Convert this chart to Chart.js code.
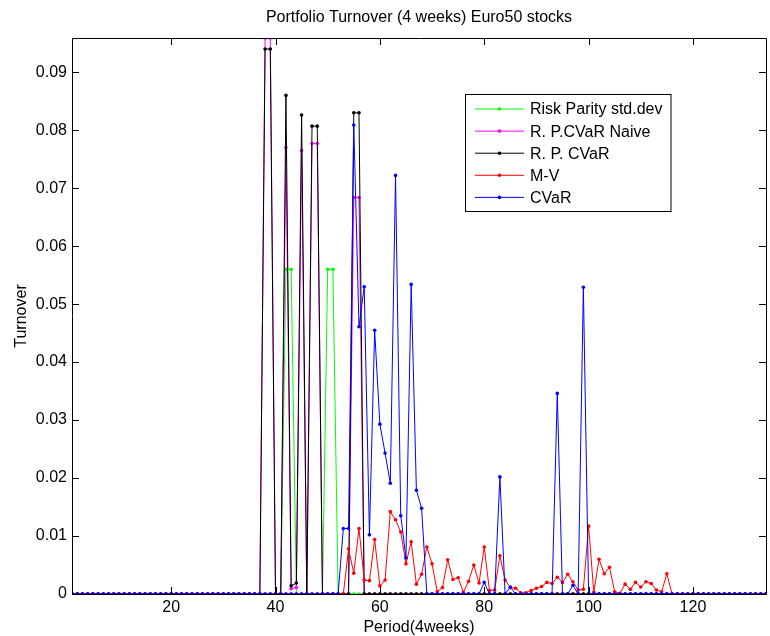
<!DOCTYPE html>
<html>
<head>
<meta charset="utf-8">
<script src="https://cdn.jsdelivr.net/npm/chart.js@4.4.0/dist/chart.umd.min.js"></script>
<style>
    html, body { margin: 0; padding: 0; background: #fff; }
    #wrap { width: 770px; height: 636px; }
</style>
</head>
<body>
<div id="wrap"><canvas id="turnoverChart" width="770" height="636"></canvas></div>
<script>
// Turnover per period (1..134)
const riskParityStd = [
    0, 0, 0, 0, 0, 0, 0, 0, 0, 0, 0, 0, 0, 0, 0, 0, 0, 0, 0, 0,
    0, 0, 0, 0, 0, 0, 0, 0, 0, 0, 0, 0, 0, 0, 0, 0, 0, 0, 0, 0,
    0, .056, .056, 0, 0, 0, 0, 0, 0, .056, .056, 0, 0, 0, 0, 0, 0, 0, 0, 0,
    0, 0, 0, 0, 0, 0, 0, 0, 0, 0, 0, 0, 0, 0, 0, 0, 0, 0, 0, 0,
    0, 0, 0, 0, 0, 0, 0, 0, 0, 0, 0, 0, 0, 0, 0, 0, 0, 0, 0, 0,
    0, 0, 0, 0, 0, 0, 0, 0, 0, 0, 0, 0, 0, 0, 0, 0, 0, 0, 0, 0,
    0, 0, 0, 0, 0, 0, 0, 0, 0, 0, 0, 0, 0, 0
];
const rpCvarNaive = [
    0, 0, 0, 0, 0, 0, 0, 0, 0, 0, 0, 0, 0, 0, 0, 0, 0, 0, 0, 0,
    0, 0, 0, 0, 0, 0, 0, 0, 0, 0, 0, 0, 0, 0, 0, 0, 0, .0959, .0959, 0,
    0, .077, .0009, .0011, .0765, 0, .0777, .0777, 0, 0, 0, 0, 0, 0, .0684, .0684, 0, 0, 0, 0,
    0, 0, 0, 0, 0, 0, 0, 0, 0, 0, 0, 0, 0, 0, 0, 0, 0, 0, 0, 0,
    0, 0, 0, 0, 0, 0, 0, 0, 0, 0, 0, 0, 0, 0, 0, 0, 0, 0, 0, 0,
    0, 0, 0, 0, 0, 0, 0, 0, 0, 0, 0, 0, 0, 0, 0, 0, 0, 0, 0, 0,
    0, 0, 0, 0, 0, 0, 0, 0, 0, 0, 0, 0, 0, 0
];
const rpCvar = [
    0, 0, 0, 0, 0, 0, 0, 0, 0, 0, 0, 0, 0, 0, 0, 0, 0, 0, 0, 0,
    0, 0, 0, 0, 0, 0, 0, 0, 0, 0, 0, 0, 0, 0, 0, 0, 0, .094, .094, 0,
    0, .086, .0014, .0019, .0826, 0, .0807, .0807, 0, 0, 0, 0, 0, 0, .083, .083, 0, 0, 0, 0,
    0, 0, 0, 0, 0, 0, 0, 0, 0, 0, 0, 0, 0, 0, 0, 0, 0, 0, 0, 0,
    0, 0, 0, 0, 0, 0, 0, 0, 0, 0, 0, 0, 0, 0, 0, 0, 0, 0, 0, 0,
    0, 0, 0, 0, 0, 0, 0, 0, 0, 0, 0, 0, 0, 0, 0, 0, 0, 0, 0, 0,
    0, 0, 0, 0, 0, 0, 0, 0, 0, 0, 0, 0, 0, 0
];
const meanVar = [
    0, 0, 0, 0, 0, 0, 0, 0, 0, 0, 0, 0, 0, 0, 0, 0, 0, 0, 0, 0,
    0, 0, 0, 0, 0, 0, 0, 0, 0, 0, 0, 0, 0, 0, 0, 0, 0, 0, 0, 0,
    0, 0, 0, 0, 0, 0, 0, 0, 0, 0, 0, 0, 0, .0078, .0036, .0113, .0024, .0023, .0094, .0014,
    .0024, .0142, .0128, .0107, .0052, .009, .0017, .0034, .0081, .0052, .0004, .0011, .0059, .0025, .0028, .0003, .0022, .005, .0019, .0081,
    .0006, .0007, .0066, .0024, .0011, .001, .0002, .0002, .0006, .001, .0013, .002, .0018, .0029, .002, .0034, .0021, .0007, .0008, .0117,
    .0003, .006, .0035, .0046, .0004, .0001, .0017, .0008, .002, .0012, .0021, .0018, .0007, .0004, .0035, 0, 0, 0, 0, 0,
    0, 0, 0, 0, 0, 0, 0, 0, 0, 0, 0, 0, 0, 0
];
const cvar = [
    0, 0, 0, 0, 0, 0, 0, 0, 0, 0, 0, 0, 0, 0, 0, 0, 0, 0, 0, 0,
    0, 0, 0, 0, 0, 0, 0, 0, 0, 0, 0, 0, 0, 0, 0, 0, 0, 0, 0, 0,
    0, 0, 0, 0, 0, 0, 0, 0, 0, 0, 0, 0, .0113, .0113, .0809, .0461, .053, .0102, .0455, .0293,
    .0243, .0191, .0722, .0135, .0062, .0534, .0179, .0148, 0, 0, 0, 0, 0, 0, 0, 0, 0, 0, 0, .002,
    0, 0, .0202, 0, .0012, 0, 0, 0, 0, 0, 0, 0, 0, .0346, 0, 0, .0015, 0, .0529, 0,
    0, 0, 0, 0, 0, 0, 0, 0, 0, 0, 0, 0, 0, 0, 0, 0, 0, 0, 0, 0,
    0, 0, 0, 0, 0, 0, 0, 0, 0, 0, 0, 0, 0, 0
];

const seriesNames = ["Risk Parity std.dev", "R. P.CVaR Naive", "R. P. CVaR", "M-V", "CVaR"];
const seriesColors = ["#00ff00", "#ff00ff", "#000000", "#ff0000", "#0000ff"];
const xTicks = [20, 40, 60, 80, 100, 120];
const yTicks = [0, 0.01, 0.02, 0.03, 0.04, 0.05, 0.06, 0.07, 0.08, 0.09];
const yTickLabels = ["0", "0.01", "0.02", "0.03", "0.04", "0.05", "0.06", "0.07", "0.08", "0.09"];
const periods = cvar.map((_, i) => i + 1);

const FONT = "'Liberation Sans', Arial, Helvetica, sans-serif";

function toPoints(values) {
    return values.map((v, i) => ({ x: periods[i], y: v }));
}

// Matlab style frame: box, inward ticks, title and legend
const matlabFrame = {
    id: "matlabFrame",
    afterDraw(chart) {
        const { ctx, chartArea: a, scales } = chart;
        const tick = 7;
        ctx.save();
        ctx.strokeStyle = "#000";
        ctx.lineWidth = 1;
        ctx.beginPath();
        ctx.rect(Math.round(a.left) + 0.5, Math.round(a.top) + 0.5,
            Math.round(a.right - a.left), Math.round(a.bottom - a.top));
        xTicks.forEach(v => {
            const px = Math.round(scales.x.getPixelForValue(v)) + 0.5;
            ctx.moveTo(px, a.bottom); ctx.lineTo(px, a.bottom - tick);
            ctx.moveTo(px, a.top); ctx.lineTo(px, a.top + tick);
        });
        yTicks.forEach(v => {
            const py = Math.round(scales.y.getPixelForValue(v)) + 0.5;
            ctx.moveTo(a.left, py); ctx.lineTo(a.left + tick, py);
            ctx.moveTo(a.right, py); ctx.lineTo(a.right - tick, py);
        });
        ctx.stroke();

        // title
        ctx.fillStyle = "#000";
        ctx.font = "16px " + FONT;
        ctx.textAlign = "center";
        ctx.textBaseline = "middle";
        ctx.fillText("Portfolio Turnover (4 weeks) Euro50 stocks", (a.left + a.right) / 2, 18);

        // legend
        const lx = 465, ly = 94, rowH = 22.1;
        ctx.textAlign = "left";
        const textW = Math.max(...seriesNames.map(n => ctx.measureText(n).width));
        const lw = 65 + textW + 8, lh = 117;
        ctx.fillStyle = "#fff";
        ctx.fillRect(lx, ly, lw, lh);
        ctx.strokeStyle = "#000";
        ctx.strokeRect(lx + 0.5, ly + 0.5, lw, lh);
        seriesNames.forEach((name, i) => {
            const y = ly + 15 + i * rowH;
            ctx.strokeStyle = seriesColors[i];
            ctx.beginPath();
            ctx.moveTo(lx + 10, y); ctx.lineTo(lx + 59, y);
            ctx.stroke();
            ctx.fillStyle = seriesColors[i];
            ctx.beginPath();
            ctx.arc(lx + 34.5, y, 1.8, 0, Math.PI * 2);
            ctx.fill();
            ctx.fillStyle = "#000";
            ctx.fillText(name, lx + 65, y + 1);
        });
        ctx.restore();
    }
};

const allSeries = [riskParityStd, rpCvarNaive, rpCvar, meanVar, cvar];

new Chart(document.getElementById("turnoverChart"), {
    type: "line",
    data: {
        datasets: allSeries.map((values, i) => ({
            label: seriesNames[i],
            data: toPoints(values),
            borderColor: seriesColors[i],
            backgroundColor: seriesColors[i],
            borderWidth: 1,
            pointRadius: 1.8,
            pointBorderWidth: 0,
            pointBackgroundColor: seriesColors[i],
            tension: 0,
            order: allSeries.length - i
        }))
    },
    options: {
        responsive: false,
        animation: false,
        events: [],
        layout: { padding: { top: 38, right: 1, bottom: 0, left: 0 } },
        plugins: {
            legend: { display: false },
            title: { display: false },
            tooltip: { enabled: false }
        },
        scales: {
            x: {
                type: "linear",
                min: 1,
                max: 134,
                grid: { display: false, drawTicks: false },
                border: { display: false },
                afterBuildTicks: scale => { scale.ticks = xTicks.map(v => ({ value: v })); },
                afterFit: scale => { scale.height = 42; },
                ticks: {
                    color: "#000",
                    font: { family: FONT, size: 16 },
                    padding: 4,
                    maxRotation: 0,
                    autoSkip: false
                },
                title: {
                    display: true,
                    text: "Period(4weeks)",
                    color: "#000",
                    font: { family: FONT, size: 16, lineHeight: 1 },
                    padding: { top: 0, bottom: 0 }
                }
            },
            y: {
                min: 0,
                max: 0.0959,
                grid: { display: false, drawTicks: false },
                border: { display: false },
                afterBuildTicks: scale => { scale.ticks = yTicks.map(v => ({ value: v })); },
                afterFit: scale => { scale.width = 72; },
                ticks: {
                    color: "#000",
                    font: { family: FONT, size: 16 },
                    padding: 5,
                    autoSkip: false,
                    callback: (value, index) => yTickLabels[index]
                },
                title: {
                    display: true,
                    text: "Turnover",
                    color: "#000",
                    font: { family: FONT, size: 16 },
                    padding: { top: 12, bottom: 0 }
                }
            }
        }
    },
    plugins: [matlabFrame]
});
</script>
</body>
</html>
